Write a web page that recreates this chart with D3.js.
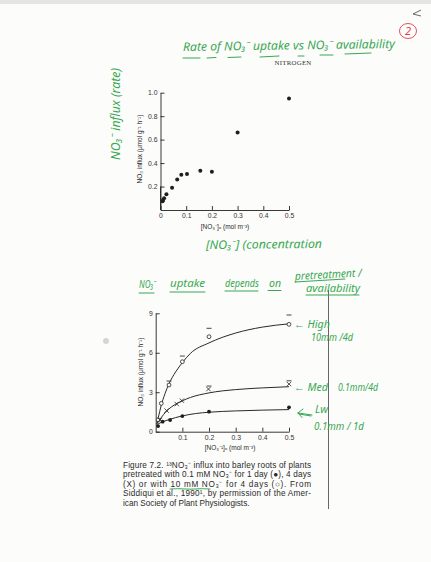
<!DOCTYPE html>
<html>
<head>
<meta charset="utf-8">
<script src="https://cdn.jsdelivr.net/npm/d3@7"></script>
<style>
  body { margin: 0; background: #fcfcfb; }
  svg { display: block; }
  .tick text { font-family: "Liberation Sans", Arial, sans-serif; font-size: 6.8px; fill: #333; }
  .tick line, .domain { stroke: #222; stroke-width: 0.9; }
  .hand { font-family: "Noto Sans", sans-serif; font-style: italic; fill: #38a852; }
  .print { font-family: "Liberation Sans", Arial, sans-serif; fill: #2a2a2a; }
</style>
</head>
<body>
<script>
// --- upper graph: influx vs external nitrate ---
var conc1 = [0.008, 0.01, 0.014, 0.023, 0.045, 0.065, 0.081, 0.103, 0.155, 0.2, 0.3, 0.5];
var rate1 = [0.075, 0.085, 0.10, 0.134, 0.19, 0.26, 0.30, 0.307, 0.335, 0.327, 0.66, 0.95];

// --- lower graph: three pretreatments ---
var highX = [0.009, 0.021, 0.05, 0.1, 0.2, 0.5];
var highY = [0.9, 2.15, 3.55, 5.32, 7.22, 8.16];
var highCapX = [0.05, 0.1, 0.2, 0.5];
var highCapY = [3.85, 5.75, 7.86, 8.87];
var highCurveX = [0.004, 0.01, 0.02, 0.035, 0.05, 0.075, 0.1, 0.13, 0.2, 0.3, 0.4, 0.5];
var highCurveY = [0.6, 1.1, 1.95, 2.9, 3.65, 4.55, 5.25, 5.95, 6.75, 7.5, 7.95, 8.2];

var medX = [0.016, 0.041, 0.079, 0.098, 0.198, 0.5];
var medY = [0.9, 1.6, 2.1, 2.36, 3.24, 3.62];
var medCapX = [0.2, 0.5];
var medCapY = [3.47, 3.87];
var medCurveX = [0.004, 0.01, 0.02, 0.04, 0.06, 0.08, 0.1, 0.13, 0.2, 0.3, 0.4, 0.5];
var medCurveY = [0.6, 0.75, 1.05, 1.55, 1.9, 2.15, 2.35, 2.6, 2.95, 3.2, 3.33, 3.42];

var lowX = [0.009, 0.026, 0.054, 0.1, 0.2, 0.5];
var lowY = [0.43, 0.76, 0.89, 1.19, 1.52, 1.85];
var lowCurveX = [0.004, 0.01, 0.02, 0.05, 0.1, 0.15, 0.2, 0.3, 0.4, 0.5];
var lowCurveY = [0.55, 0.6, 0.7, 0.92, 1.2, 1.38, 1.48, 1.58, 1.64, 1.68];

var ticks1Y = [0.2, 0.4, 0.6, 0.8, 1.0];
var ticks1X = [0, 0.1, 0.2, 0.3, 0.4, 0.5];
var ticks2Y = [0, 3, 6, 9];
var ticks2X = [0.1, 0.2, 0.3, 0.4, 0.5];

var caption = [
  "Figure 7.2.  \u00b9\u00b3NO\u2083\u207b influx into barley roots of plants",
  "pretreated with 0.1 mM NO\u2083\u207b for 1 day (\u25cf), 4 days",
  "(X) or with 10 mM NO\u2083\u207b for 4 days (\u25cb). From",
  "Siddiqui et al., 1990\u00b9, by permission of the Amer-",
  "ican Society of Plant Physiologists."
];

var svg = d3.select("body").append("svg").attr("width", 431).attr("height", 562);
svg.append("rect").attr("width", 431).attr("height", 4).attr("fill", "#e4e4e4");

function zip(a, b) { return a.map(function (v, i) { return [v, b[i]]; }); }

/* upper graph */
var x1 = d3.scaleLinear().domain([0, 0.5]).range([160.5, 289]);
var y1 = d3.scaleLinear().domain([0, 1]).range([210, 92.7]);

svg.append("g").attr("transform", "translate(160.5,0)")
  .call(d3.axisLeft(y1).tickValues(ticks1Y).tickFormat(d3.format(".1f"))
    .tickSizeInner(-4).tickSizeOuter(0).tickPadding(3));
svg.append("line").attr("x1", 160.5).attr("x2", 160.5).attr("y1", y1(0.2)).attr("y2", 210)
  .attr("stroke", "#222").attr("stroke-width", 0.9);
svg.append("g").attr("transform", "translate(0,210)")
  .call(d3.axisBottom(x1).tickValues(ticks1X)
    .tickFormat(function (d) { return d === 0 ? "0" : d3.format(".1f")(d); })
    .tickSizeInner(-4).tickSizeOuter(0).tickPadding(3));

svg.selectAll(".p1").data(zip(conc1, rate1)).enter().append("circle")
  .attr("cx", function (d) { return x1(d[0]); })
  .attr("cy", function (d) { return y1(d[1]); })
  .attr("r", 2).attr("fill", "#1e1e1e");

svg.append("text").attr("class", "print").attr("font-size", 6.5)
  .attr("transform", "translate(142,149) rotate(-90)").attr("text-anchor", "middle")
  .text("NO\u2083 influx (\u03bcmol g\u207b\u00b9 h\u207b\u00b9)");
svg.append("text").attr("class", "print").attr("font-size", 6.5)
  .attr("x", 225).attr("y", 229).attr("text-anchor", "middle")
  .text("[NO\u2083\u207b]\u2092 (mol m\u207b\u00b3)");

/* lower graph */
var x2 = d3.scaleLinear().domain([0, 0.5]).range([155.7, 289]);
var y2 = d3.scaleLinear().domain([0, 9]).range([431.7, 313.3]);

svg.append("g").attr("transform", "translate(155.7,0)")
  .call(d3.axisLeft(y2).tickValues(ticks2Y).tickSizeInner(-4).tickSizeOuter(0).tickPadding(3));
svg.append("g").attr("transform", "translate(0,431.7)")
  .call(d3.axisBottom(x2).tickValues(ticks2X).tickFormat(d3.format(".1f"))
    .tickSizeInner(-4).tickSizeOuter(0).tickPadding(3));

var line2 = d3.line().curve(d3.curveMonotoneX)
  .x(function (d) { return x2(d[0]); }).y(function (d) { return y2(d[1]); });
[[highCurveX, highCurveY], [medCurveX, medCurveY], [lowCurveX, lowCurveY]].forEach(function (c) {
  svg.append("path").attr("d", line2(zip(c[0], c[1])))
    .attr("fill", "none").attr("stroke", "#2a2a2a").attr("stroke-width", 1);
});

function caps(xs, ys) {
  svg.selectAll(null).data(zip(xs, ys)).enter().append("line")
    .attr("x1", function (d) { return x2(d[0]) - 2.5; })
    .attr("x2", function (d) { return x2(d[0]) + 2.5; })
    .attr("y1", function (d) { return y2(d[1]); })
    .attr("y2", function (d) { return y2(d[1]); })
    .attr("stroke", "#333").attr("stroke-width", 0.9);
}
caps(highCapX, highCapY);
caps(medCapX, medCapY);

svg.selectAll(".hi").data(zip(highX, highY)).enter().append("circle")
  .attr("cx", function (d) { return x2(d[0]); })
  .attr("cy", function (d) { return y2(d[1]); })
  .attr("r", 1.9).attr("fill", "#fcfcfb").attr("stroke", "#222").attr("stroke-width", 0.8);

svg.selectAll(".md").data(zip(medX, medY)).enter().append("path")
  .attr("d", function (d) {
    var cx = x2(d[0]), cy = y2(d[1]), s = 2.2;
    return "M" + (cx - s) + "," + (cy - s) + "L" + (cx + s) + "," + (cy + s) +
           "M" + (cx + s) + "," + (cy - s) + "L" + (cx - s) + "," + (cy + s);
  })
  .attr("stroke", "#222").attr("stroke-width", 0.8);

svg.selectAll(".lo").data(zip(lowX, lowY)).enter().append("circle")
  .attr("cx", function (d) { return x2(d[0]); })
  .attr("cy", function (d) { return y2(d[1]); })
  .attr("r", 1.9).attr("fill", "#1e1e1e");

svg.append("text").attr("class", "print").attr("font-size", 6.5)
  .attr("transform", "translate(143,372) rotate(-90)").attr("text-anchor", "middle")
  .text("NO\u2083 influx (\u03bcmol g\u207b\u00b9 h\u207b\u00b9)");
svg.append("text").attr("class", "print").attr("font-size", 6.5)
  .attr("x", 230).attr("y", 450).attr("text-anchor", "middle")
  .text("[NO\u2083\u207b\u00b9]\u2092 (mol m\u207b\u00b3)");

/* caption */
caption.forEach(function (t, i) {
  var tx = svg.append("text").attr("class", "print").attr("font-size", 8.2)
    .attr("x", 123).attr("y", 467.5 + i * 9.6).text(t);
  if (i < caption.length - 1) tx.attr("textLength", 188).attr("lengthAdjust", "spacing");
});

/* page header */
svg.append("text").attr("x", 293).attr("y", 64.5).attr("text-anchor", "middle")
  .attr("font-family", "Liberation Serif, serif").attr("font-size", 6.8).attr("fill", "#333")
  .attr("letter-spacing", 0.3).text("NITROGEN");

/* vertical pen line */
svg.append("line").attr("x1", 328.5).attr("x2", 328.5).attr("y1", 290).attr("y2", 509)
  .attr("stroke", "#555").attr("stroke-width", 0.9);

/* smudge */
svg.append("circle").attr("cx", 106).attr("cy", 341).attr("r", 3).attr("fill", "#bbb").attr("opacity", 0.6);

/* corner tick mark */
svg.append("path").attr("d", "M421,10 L413,14 L421,16").attr("fill", "none")
  .attr("stroke", "#666").attr("stroke-width", 1);

/* circled page number */
svg.append("ellipse").attr("cx", 408).attr("cy", 31).attr("rx", 8.5).attr("ry", 7.5)
  .attr("fill", "none").attr("stroke", "#e0404a").attr("stroke-width", 0.9);
svg.append("text").attr("x", 408).attr("y", 35).attr("text-anchor", "middle")
  .attr("font-family", "Noto Sans, sans-serif").attr("font-style", "italic")
  .attr("font-size", 11).attr("fill", "#e0404a").text("2");

/* green handwriting */
function hand(t, x, y, size, len, rot) {
  var el = svg.append("text").attr("class", "hand").attr("font-size", size)
    .attr("x", x).attr("y", y).text(t);
  if (len) el.attr("textLength", len).attr("lengthAdjust", "spacingAndGlyphs");
  if (rot) el.attr("transform", "rotate(" + rot + "," + x + "," + y + ")");
  return el;
}
function stroke(pts) {
  svg.append("path").attr("d", d3.line().curve(d3.curveBasis)(pts)).attr("fill", "none")
    .attr("stroke", "#38a852").attr("stroke-width", 1).attr("stroke-linecap", "round");
}

hand("Rate of NO\u2083\u207b uptake  vs  NO\u2083\u207b availability", 183, 51, 12, 212, -0.8);
stroke([[183, 58], [200, 58]]); stroke([[207, 58], [216, 57.5]]);
stroke([[228, 57.5], [241, 57]]); stroke([[260, 57], [279, 56]]);
stroke([[298, 56], [304, 56]]); stroke([[320, 55], [333, 55]]);
stroke([[345, 54], [371, 53]]);

svg.append("text").attr("class", "hand").attr("font-size", 12)
  .attr("transform", "translate(120,160) rotate(-90)")
  .attr("textLength", 92).attr("lengthAdjust", "spacingAndGlyphs")
  .text("NO\u2083\u207b influx  (rate)");

hand("[NO\u2083\u207b]  (concentration", 206, 249, 12, 116, -0.5);

hand("NO\u2083\u207b", 139, 288, 11, 17);
hand("uptake", 170, 287, 11, 35);
hand("depends", 225, 287, 11, 34);
hand("on", 269, 287, 11, 12);
hand("pretreatment /", 295, 280, 11, 67, -3);
hand("availability", 306, 292, 11, 54);
stroke([[139, 293], [154, 293]]); stroke([[170, 292], [205, 292]]);
stroke([[225, 291], [258, 291]]); stroke([[268, 290.5], [281, 290.5]]);
stroke([[295, 282], [345, 279]]); stroke([[306, 295], [359, 295]]);

/* wavy underline in the caption */
stroke([[170, 489], [180, 488.5], [190, 489.5], [200, 488.5], [210, 489]]);

hand("\u2190 High", 294, 328, 11, 36);
hand("10mm /4d", 311, 341, 10, 42);
hand("\u2190 Med", 294, 391, 11, 34);
hand("0.1mm/4d", 338, 391, 11, 40);
hand("Lw", 315, 413, 11, 13);
stroke([[298, 413], [312, 415]]); stroke([[298, 413], [303, 409]]); stroke([[298, 413], [302, 417.5]]);
stroke([[299, 414], [311, 416]]);
hand("0.1mm / 1d", 314, 430, 11, 50);
</script>
</body>
</html>
